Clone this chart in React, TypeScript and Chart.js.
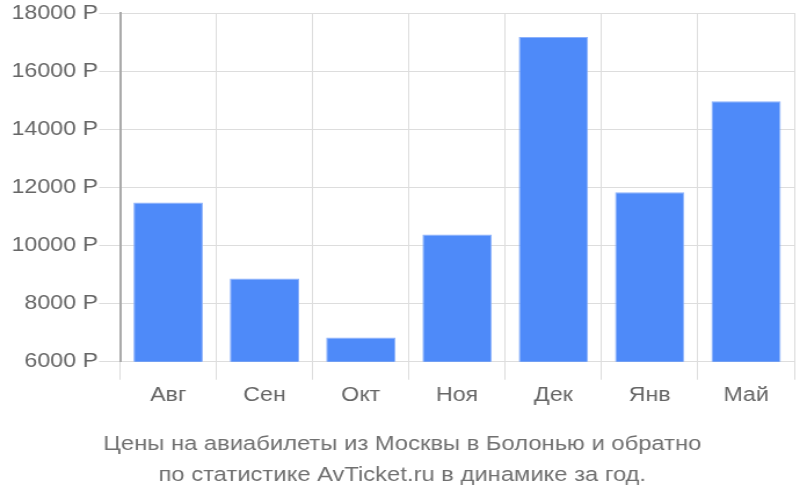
import React, { useEffect, useRef } from "react";
import { Chart, registerables } from "chart.js";

Chart.register(...registerables);

const categories = ["Авг", "Сен", "Окт", "Ноя", "Дек", "Янв", "Май"];
const prices = [11480, 8860, 6830, 10380, 17170, 11830, 14960];
const yTicks = [6000, 8000, 10000, 12000, 14000, 16000, 18000];
const titleLines = [
  "Цены на авиабилеты из Москвы в Болонью и обратно",
  "по статистике AvTicket.ru в динамике за год.",
];

const FONT = "'Liberation Sans', Arial, sans-serif";

export default function App() {
  const ref = useRef<HTMLCanvasElement | null>(null);

  useEffect(() => {
    if (!ref.current) return;
    const chart = new Chart(ref.current, {
      type: "bar",
      data: {
        labels: categories,
        datasets: [
          {
            data: prices,
            backgroundColor: "#4e8af9",
            borderColor: "#8cb1fb",
            borderWidth: 1,
            categoryPercentage: 0.8,
            barPercentage: 0.9,
          },
        ],
      },
      options: {
        animation: false,
        responsive: false,
        maintainAspectRatio: false,
        devicePixelRatio: 1,
        layout: { padding: { left: 9, right: 5, top: 4, bottom: 10 } },
        plugins: {
          legend: { display: false },
          tooltip: { enabled: false },
          title: {
            display: true,
            position: "bottom",
            text: titleLines,
            color: "#707070",
            font: { family: FONT, size: 20.5, weight: "normal", lineHeight: 1.47 },
            padding: { top: 18, bottom: 0 },
          },
        },
        scales: {
          x: {
            offset: true,
            grid: {
              display: true,
              offset: true,
              color: "#dddddd",
              lineWidth: 1,
              tickLength: 18,
              drawTicks: true,
            },
            border: { display: false },
            ticks: {
              color: "#666666",
              font: { family: FONT, size: 20 },
              padding: 4,
            },
          },
          y: {
            min: 6000,
            max: 18000,
            afterBuildTicks: (axis: any) => {
              axis.ticks = yTicks.map((v) => ({ value: v }));
            },
            grid: {
              color: "#dddddd",
              lineWidth: 1,
              tickLength: 18,
            },
            border: { display: true, color: "#aaaaaa", width: 2 },
            ticks: {
              color: "#666666",
              font: { family: FONT, size: 20 },
              padding: 1,
              callback: (v: any) => `${v} Р`,
            },
          },
        },
      },
    });
    return () => chart.destroy();
  }, []);

  return (
    <div style={{ position: "absolute", left: 0, top: 0, width: 800, height: 500, background: "#fff" }}>
      <canvas ref={ref} width={690} height={500} style={{ display: "block", width: "800px", height: "500px" }} />
    </div>
  );
}
